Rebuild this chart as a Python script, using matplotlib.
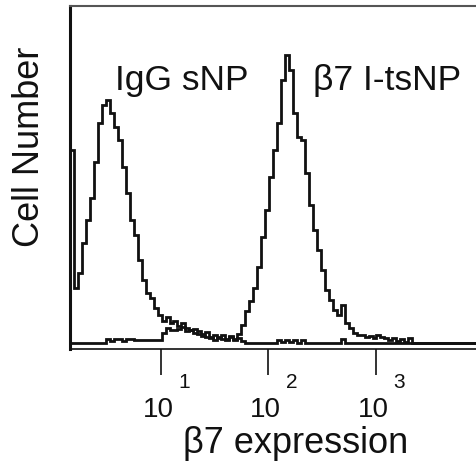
import numpy as np
import matplotlib
matplotlib.use("Agg")
import matplotlib.pyplot as plt

plt.rcParams['font.family'] = ['Liberation Sans', 'DejaVu Sans']

# log10 bin edges of the fluorescence channels
log_start = 0.157
log_step = 0.037
# cell counts per channel (arbitrary units)
igg_counts = [193, 55, 70, 100, 123, 145, 181, 220, 238, 243,
              230, 216, 203, 176, 150, 123, 108, 83, 63, 50,
              45, 35, 28, 22, 26, 20, 22, 17, 20, 15,
              13, 14, 12, 9, 11, 6, 8, 5, 8, 4,
              7, 3, 5, 2, 0, 0, 0, 0, 0, 0,
              0, 0, 3, 1, 3, 1, 3, 0, 3, 0,
              0, 0, 0, 0, 0, 0, 0, 0, 4, 0,
              0, 0, 0, 0, 0, 0, 0, 0, 0, 0,
              0, 0, 0, 0, 0, 0, 0, 0, 0, 0,
              0, 0, 0, 0, 0, 0, 0, 0, 0, 0,
              0, 0]
b7_counts = [0, 0, 0, 0, 0, 0, 0, 0, 0, 4,
             2, 4, 4, 2, 4, 4, 3, 3, 3, 3,
             3, 3, 3, 10, 15, 13, 13, 14, 16, 12,
             13, 10, 9, 7, 6, 5, 3, 6, 4, 3,
             6, 4, 9, 18, 32, 42, 55, 76, 106, 133,
             166, 193, 220, 263, 288, 273, 230, 206, 203, 170,
             138, 113, 93, 73, 53, 43, 33, 28, 38, 20,
             15, 10, 8, 8, 6, 7, 5, 8, 6, 5,
             3, 5, 2, 4, 1, 5, 0, 0, 0, 0,
             0, 0, 0, 0, 0, 0, 0, 0, 0, 0,
             0, 0]
tick_values = [10, 100, 1000]
tick_bases = ['10', '10', '10']
tick_exps = ['1', '2', '3']
series_labels = ['IgG sNP', 'β7 I-tsNP']

n = len(igg_counts)
edges = 10 ** (log_start + log_step * np.arange(n + 1))

fig = plt.figure(figsize=(4.76, 4.67), dpi=100)
ax = fig.add_axes([70/476, 1 - 349/467, 1 - 70/476, 343/467])

lc = '#111111'
ax.stairs(igg_counts, edges, color=lc, lw=2.0, baseline=0)
ax.stairs(b7_counts, edges, color=lc, lw=2.0, baseline=0)

ax.set_xscale('log')
ax.set_xlim(edges[0], edges[-1])
ax.set_ylim(-6, 337)

ax.spines['right'].set_visible(False)
ax.spines['top'].set_color('#555555')
ax.spines['top'].set_linewidth(1.5)
ax.spines['left'].set_linewidth(2.2)
ax.spines['left'].set_color(lc)
ax.spines['bottom'].set_linewidth(1.2)
ax.spines['bottom'].set_color(lc)

ax.set_yticks([])
ax.set_xticks(tick_values)
ax.set_xticklabels([])
ax.xaxis.set_minor_locator(matplotlib.ticker.NullLocator())
ax.tick_params(axis='x', direction='out', length=19, width=1.2, color=lc)

trans = ax.get_xaxis_transform()
for tv, b, e in zip(tick_values, tick_bases, tick_exps):
    ax.annotate(b, xy=(tv, 0), xycoords=trans, xytext=(-2, -49),
                textcoords='offset points', ha='center', va='baseline',
                fontsize=20, color=lc, annotation_clip=False)
    ax.annotate(e, xy=(tv, 0), xycoords=trans, xytext=(17, -28),
                textcoords='offset points', ha='center', va='baseline',
                fontsize=15, color=lc, annotation_clip=False)

fig.text(30/476, 1 - 147/467, 'Cell Number', rotation=90, ha='center',
         va='center', fontsize=26, color=lc)
fig.text(183/476, 1 - 453/467, 'β7 expression', ha='left', va='baseline',
         fontsize=26, color=lc)

fig.text(115/476, 1 - 90/467, series_labels[0], ha='left', va='baseline',
         fontsize=25.5, color=lc)
fig.text(313/476, 1 - 90/467, series_labels[1], ha='left', va='baseline',
         fontsize=25.5, color=lc)

fig.savefig('out.png', dpi=100)
